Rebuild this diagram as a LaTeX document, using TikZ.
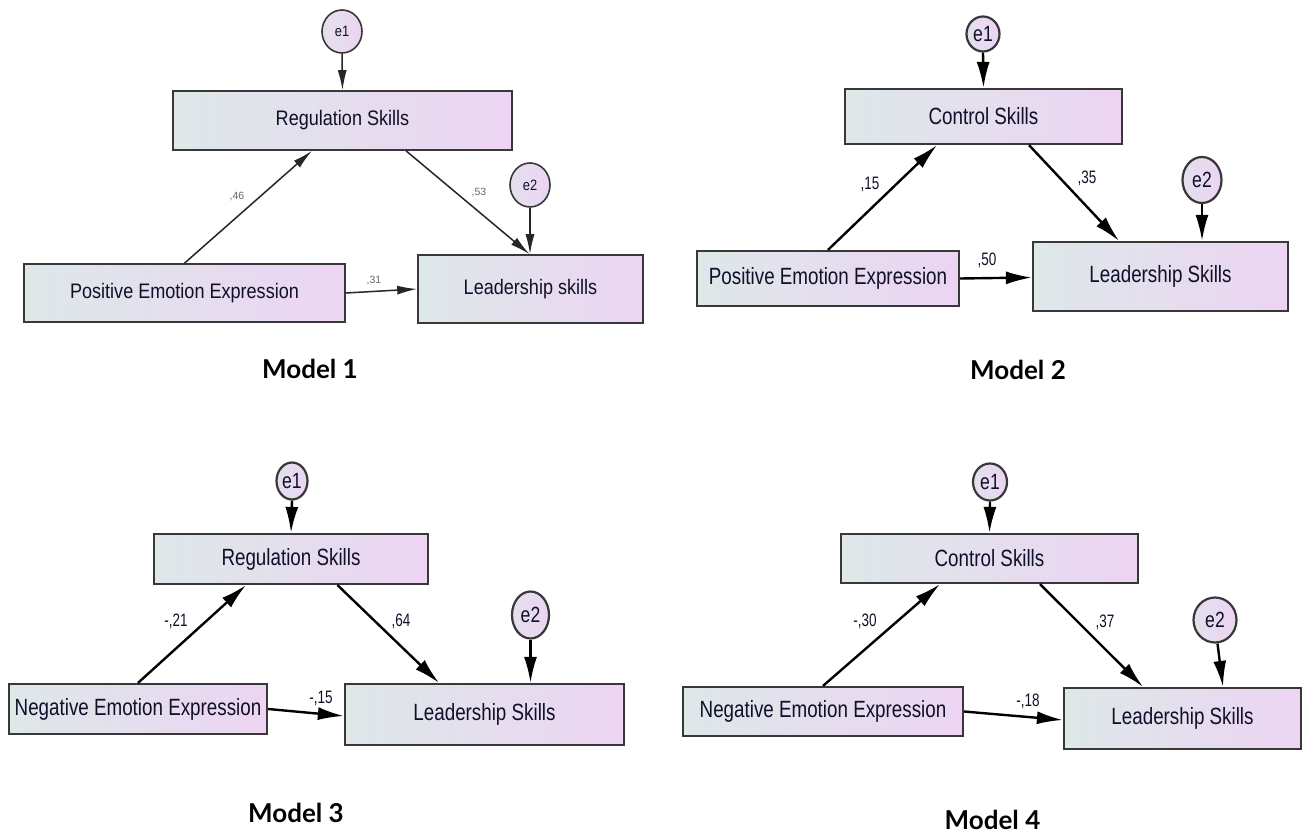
\documentclass[tikz,border=0pt]{standalone}
\usepackage{fontspec}
\setmainfont{Liberation Sans}
\newfontfamily\boxfontA[FakeStretch=0.86]{Liberation Sans}
\newfontfamily\boxfontB[FakeStretch=0.8]{Liberation Sans}
\newfontfamily\labfontB[FakeStretch=0.75]{Liberation Sans}
\newfontfamily\capfont{Lato}
\usetikzlibrary{arrows.meta,shapes.geometric}
\definecolor{boxL}{HTML}{DEE8E9}
\definecolor{boxR}{HTML}{ECD4F2}
\definecolor{boxline}{HTML}{383838}
\definecolor{txt}{HTML}{10102A}
\tikzset{
  boxA/.style={draw=boxline, line width=1.6pt, left color=boxL, right color=boxR, text=txt, inner sep=0pt, font=\boxfontA\fontsize{21}{25}\selectfont},
  boxB/.style={draw=boxline, line width=2.2pt, left color=boxL, right color=boxR, text=txt, inner sep=0pt, font=\boxfontB\fontsize{23.5}{27}\selectfont},
  errA/.style={ellipse, draw=boxline, line width=1.6pt, left color=boxL!60!boxR, right color=boxR, text=txt, inner sep=0pt, font=\boxfontA\fontsize{15}{18}\selectfont},
  errB/.style={ellipse, draw=boxline, line width=2.2pt, left color=boxL!60!boxR, right color=boxR, text=txt, inner sep=0pt, font=\boxfontB\fontsize{22}{26}\selectfont},
  arrA/.style={-{Latex[length=20pt,width=9pt]}, line width=1.5pt, draw=black!85},
  arrB/.style={-{Latex[length=26pt,width=13pt]}, line width=2.4pt, draw=black},
  labA/.style={font=\fontsize{10.5}{12}\selectfont, text=black!60, inner sep=0pt},
  labB/.style={font=\labfontB\fontsize{18}{21}\selectfont, text=txt, inner sep=0pt},
  captxt/.style={font=\capfont\bfseries\fontsize{26}{30}\selectfont, text=black, inner sep=0pt}
}
\begin{document}
\begin{tikzpicture}[x=1pt,y=-1pt]
\useasboundingbox[fill=white] (0,0) rectangle (1302,834);

% ---------------- Model 1 ----------------
\node[errA, minimum width=40pt, minimum height=43pt] (m1e1) at (342,31.5) {e1};
\node[boxA, minimum width=339pt, minimum height=59pt] (m1reg) at (342.5,120.5) {Regulation Skills};
\node[errA, minimum width=40pt, minimum height=44pt] (m1e2) at (530,185) {e2};
\node[boxA, minimum width=225pt, minimum height=68pt] (m1lead) at (530.5,289) {Leadership skills};
\node[boxA, minimum width=321pt, minimum height=58pt] (m1pee) at (184.5,293) {Positive Emotion Expression};
\draw[arrA] (m1e1.south) -- (m1reg.north);
\draw[arrA] (m1pee.north) -- ([xshift=-30.5pt]m1reg.south);
\draw[arrA] ([xshift=63.5pt]m1reg.south) -- ([xshift=-1pt]m1lead.north);
\draw[arrA] (m1e2.south) -- ([xshift=-0.5pt]m1lead.north);
\draw[arrA] (m1pee.east) -- (m1lead.west);
\node[labA] (m1l1) at (237,197) {,46};
\node[labA] (m1l2) at (479,193) {,53};
\node[labA] (m1l3) at (374,281) {,31};
\node[captxt] (m1cap) at (310,369) {Model 1};

% ---------------- Model 2 ----------------
\node[errB, minimum width=33pt, minimum height=35pt] (m2e1) at (983,34) {e1};
\node[boxB, minimum width=277pt, minimum height=55pt] (m2ctl) at (983.5,116.5) {Control Skills};
\node[errB, minimum width=39pt, minimum height=46pt] (m2e2) at (1202,180) {e2};
\node[boxB, minimum width=255pt, minimum height=69pt] (m2lead) at (1160.5,276.5) {Leadership Skills};
\node[boxB, minimum width=262pt, minimum height=55pt] (m2pee) at (828,278.5) {Positive Emotion Expression};
\draw[arrB] (m2e1.south) -- (m2ctl.north);
\draw[arrB] (m2pee.north) -- ([xshift=-46.5pt]m2ctl.south);
\draw[arrB] ([xshift=45.5pt]m2ctl.south) -- ([xshift=-41.5pt]m2lead.north);
\draw[arrB] (m2e2.south) -- ([xshift=41.5pt]m2lead.north);
\draw[arrB] (m2pee.east) -- ([yshift=-1pt]m2lead.west);
\node[labB] (m2l1) at (870,184) {,15};
\node[labB] (m2l2) at (1087,178) {,35};
\node[labB] (m2l3) at (987,260) {,50};
\node[captxt] (m2cap) at (1018,370) {Model 2};

% ---------------- Model 3 ----------------
\node[errB, minimum width=31pt, minimum height=37pt] (m3e1) at (292,481) {e1};
\node[boxB, minimum width=274pt, minimum height=50pt] (m3reg) at (291,559) {Regulation Skills};
\node[errB, minimum width=37pt, minimum height=47pt] (m3e2) at (530.5,615) {e2};
\node[boxB, minimum width=279pt, minimum height=61pt] (m3lead) at (484.5,714.5) {Leadership Skills};
\node[boxB, minimum width=258pt, minimum height=50pt] (m3nee) at (138,709) {Negative Emotion Expression};
\draw[arrB] (m3e1.south) -- (m3reg.north);
\draw[arrB] (m3nee.north) -- ([xshift=-45pt]m3reg.south);
\draw[arrB] ([xshift=46.5pt]m3reg.south) -- ([xshift=-45.5pt]m3lead.north);
\draw[arrB] (m3e2.south) -- ([xshift=46pt]m3lead.north);
\draw[arrB] (m3nee.east) -- ([yshift=-1.5pt]m3lead.west);
\node[labB] (m3l1) at (176,621) {-,21};
\node[labB] (m3l2) at (401,621) {,64};
\node[labB] (m3l3) at (321,698) {-,15};
\node[captxt] (m3cap) at (296,813) {Model 3};

% ---------------- Model 4 ----------------
\node[errB, minimum width=34pt, minimum height=37pt] (m4e1) at (990,482) {e1};
\node[boxB, minimum width=297pt, minimum height=49pt] (m4ctl) at (989.5,558.5) {Control Skills};
\node[errB, minimum width=43pt, minimum height=45pt] (m4e2) at (1215,620) {e2};
\node[boxB, minimum width=237pt, minimum height=61pt] (m4lead) at (1182.5,718.5) {Leadership Skills};
\node[boxB, minimum width=280pt, minimum height=49pt] (m4nee) at (823,711.5) {Negative Emotion Expression};
\draw[arrB] (m4e1.south) -- (m4ctl.north);
\draw[arrB] (m4nee.north) -- ([xshift=-49.5pt]m4ctl.south);
\draw[arrB] ([xshift=50.5pt]m4ctl.south) -- ([xshift=-39.5pt]m4lead.north);
\draw[arrB] ([xshift=2.5pt]m4e2.south) -- ([xshift=40.5pt]m4lead.north);
\draw[arrB] (m4nee.east) -- ([yshift=-1.5pt]m4lead.west);
\node[labB] (m4l1) at (865,621) {-,30};
\node[labB] (m4l2) at (1105,622) {,37};
\node[labB] (m4l3) at (1028,701) {-,18};
\node[captxt] (m4cap) at (992.5,820) {Model 4};
\end{tikzpicture}
\end{document}
